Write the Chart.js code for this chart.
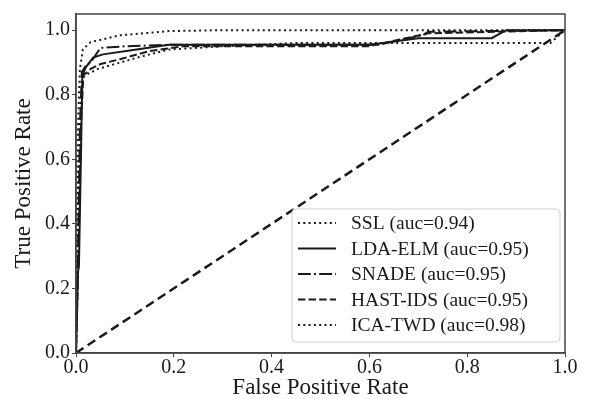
<!DOCTYPE html>
<html><head><meta charset="utf-8">
<script src="https://cdn.jsdelivr.net/npm/chart.js@4.4.1/dist/chart.umd.min.js"></script>
<style>html,body{margin:0;padding:0;background:#fff;}#wrap{width:591px;height:399px;}</style>
</head><body><div id="wrap"><canvas id="c" width="591" height="399"></canvas></div>
<script>
const seriesNames = ["SSL (auc=0.94)", "LDA-ELM (auc=0.95)", "SNADE (auc=0.95)", "HAST-IDS (auc=0.95)", "ICA-TWD (auc=0.98)"];
const sslFpr = [0, 0.003, 0.008, 0.012, 0.016, 0.025, 0.045, 0.08, 0.125, 0.19, 0.3, 0.45, 0.97, 1.0];
const sslTpr = [0, 0.3, 0.7, 0.82, 0.855, 0.865, 0.88, 0.895, 0.915, 0.94, 0.95, 0.96, 0.96, 1.0];
const ldaFpr = [0, 0.004, 0.006, 0.01, 0.013, 0.02, 0.035, 0.055, 0.11, 0.19, 0.3, 0.6, 0.65, 0.7, 0.85, 0.88, 1.0];
const ldaTpr = [0, 0.25, 0.27, 0.6, 0.86, 0.885, 0.915, 0.925, 0.937, 0.955, 0.955, 0.955, 0.965, 0.975, 0.975, 1.0, 1.0];
const snadeFpr = [0, 0.004, 0.008, 0.012, 0.02, 0.03, 0.05, 0.1, 0.2, 0.62, 0.68, 0.71, 0.72, 1.0];
const snadeTpr = [0, 0.3, 0.7, 0.87, 0.89, 0.9, 0.945, 0.95, 0.955, 0.955, 0.975, 0.985, 0.995, 1.0];
const hastFpr = [0, 0.005, 0.01, 0.015, 0.03, 0.05, 0.09, 0.15, 0.22, 0.6, 0.66, 0.72, 1.0];
const hastTpr = [0, 0.3, 0.7, 0.86, 0.88, 0.895, 0.91, 0.935, 0.95, 0.95, 0.97, 0.99, 1.0];
const icaFpr = [0, 0.002, 0.004, 0.008, 0.014, 0.03, 0.09, 0.19, 0.3, 1.0];
const icaTpr = [0, 0.4, 0.7, 0.88, 0.94, 0.963, 0.984, 0.997, 1.0, 1.0];
const diagFpr = [0, 1];
const diagTpr = [0, 1];
const xTicks = [0, 0.2, 0.4, 0.6, 0.8, 1.0];
const yTicks = [0, 0.2, 0.4, 0.6, 0.8, 1.0];
const xTitle = "False Positive Rate";
const yTitle = "True Positive Rate";

const pts = (xs, ys) => xs.map((x, i) => ({x: x, y: ys[i]}));
const ink = '#1a1a1a';
const FONT = '"Liberation Serif", "Times New Roman", serif';

function ds(label, xs, ys, dash, inLegend) {
  return {label: label, data: pts(xs, ys), borderColor: ink, backgroundColor: ink, borderWidth: 2,
    borderDash: dash, pointRadius: 0, tension: 0, fill: false, inLegend: inLegend};
}
const datasets = [
  ds(seriesNames[0], sslFpr, sslTpr, [2, 3.3], true),
  ds(seriesNames[1], ldaFpr, ldaTpr, [], true),
  ds(seriesNames[2], snadeFpr, snadeTpr, [12.8, 3.2, 2, 3.2], true),
  ds(seriesNames[3], hastFpr, hastTpr, [7.4, 3.2], true),
  ds(seriesNames[4], icaFpr, icaTpr, [2, 3.3], true),
  Object.assign(ds('diag', diagFpr, diagTpr, [9, 5], false), {borderWidth: 2.5})
];

const framePlugin = {
  id: 'frame',
  afterDraw(chart) {
    const {ctx, chartArea: a} = chart;
    ctx.save();
    ctx.strokeStyle = '#444';
    ctx.lineWidth = 1.5;
    ctx.strokeRect(a.left, a.top, a.right - a.left, a.bottom - a.top);
    // legend
    const bx = 292, by = 209, bw = 268, bh = 133;
    ctx.fillStyle = 'rgba(255,255,255,0.8)';
    ctx.strokeStyle = '#d0d0d0';
    ctx.lineWidth = 1;
    const r = 4;
    ctx.beginPath();
    ctx.moveTo(bx + r, by); ctx.lineTo(bx + bw - r, by); ctx.quadraticCurveTo(bx + bw, by, bx + bw, by + r);
    ctx.lineTo(bx + bw, by + bh - r); ctx.quadraticCurveTo(bx + bw, by + bh, bx + bw - r, by + bh);
    ctx.lineTo(bx + r, by + bh); ctx.quadraticCurveTo(bx, by + bh, bx, by + bh - r);
    ctx.lineTo(bx, by + r); ctx.quadraticCurveTo(bx, by, bx + r, by);
    ctx.closePath(); ctx.fill(); ctx.stroke();
    let row = 0;
    chart.data.datasets.forEach(d => {
      if (!d.inLegend) return;
      const y = 223 + row * 25.5;
      ctx.strokeStyle = d.borderColor;
      ctx.lineWidth = d.borderWidth;
      ctx.setLineDash(d.borderDash);
      ctx.beginPath(); ctx.moveTo(298, y); ctx.lineTo(336, y); ctx.stroke();
      ctx.setLineDash([]);
      ctx.fillStyle = ink;
      ctx.font = '19.5px ' + FONT;
      ctx.textBaseline = 'middle';
      ctx.textAlign = 'left';
      ctx.fillText(d.label, 351, y + 1);
      row++;
    });
    ctx.restore();
  }
};

new Chart(document.getElementById('c'), {
  type: 'line',
  data: {datasets: datasets},
  options: {
    responsive: false, animation: false,
    layout: {padding: {left: 0, right: 26, top: 12, bottom: 0}},
    plugins: {legend: {display: false}, tooltip: {enabled: false}},
    scales: {
      x: {type: 'linear', min: 0, max: 1,
        afterBuildTicks: s => { s.ticks = xTicks.map(v => ({value: v})); },
        afterFit: s => { s.height = 46; },
        grid: {display: true, drawOnChartArea: false, drawTicks: true, tickLength: 4, color: '#444', lineWidth: 1},
        border: {display: true, color: '#444', width: 1.5},
        ticks: {color: ink, font: {family: FONT, size: 20, lineHeight: 1.1}, padding: 0, maxRotation: 0,
          callback: v => Number(v).toFixed(1)},
        title: {display: true, text: xTitle, color: ink, font: {family: FONT, size: 23, lineHeight: 1}, padding: {top: 0, bottom: 0}}
      },
      y: {type: 'linear', min: 0, max: 1.05,
        afterBuildTicks: s => { s.ticks = yTicks.map(v => ({value: v})); },
        afterFit: s => { s.width = 76; },
        grid: {display: true, drawOnChartArea: false, drawTicks: true, tickLength: 4, color: '#444', lineWidth: 1},
        border: {display: true, color: '#444', width: 1.5},
        ticks: {color: ink, font: {family: FONT, size: 20}, padding: 2,
          callback: v => Number(v).toFixed(1)},
        title: {display: true, text: yTitle, color: ink, font: {family: FONT, size: 23, lineHeight: 1}, padding: {top: 12, bottom: 0}}
      }
    }
  },
  plugins: [framePlugin]
});
</script></body></html>
